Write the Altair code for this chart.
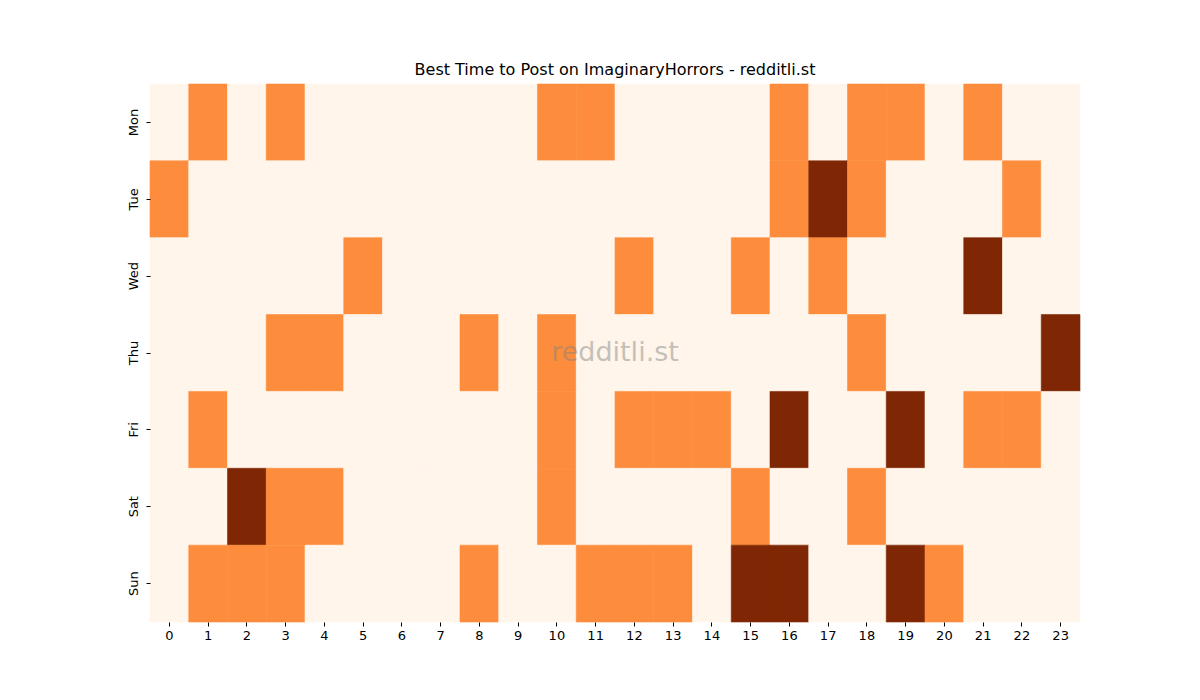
"""
Posting-time heatmap: day of week x hour of day, three activity levels.
"""

import altair as alt
import pandas as pd

days = ["Mon", "Tue", "Wed", "Thu", "Fri", "Sat", "Sun"]
hours = list(range(24))

# activity level per hour (0 = low, 1 = good, 2 = best)
mon = [0, 1, 0, 1, 0, 0, 0, 0, 0, 0, 1, 1, 0, 0, 0, 0, 1, 0, 1, 1, 0, 1, 0, 0]
tue = [1, 0, 0, 0, 0, 0, 0, 0, 0, 0, 0, 0, 0, 0, 0, 0, 1, 2, 1, 0, 0, 0, 1, 0]
wed = [0, 0, 0, 0, 0, 1, 0, 0, 0, 0, 0, 0, 1, 0, 0, 1, 0, 1, 0, 0, 0, 2, 0, 0]
thu = [0, 0, 0, 1, 1, 0, 0, 0, 1, 0, 1, 0, 0, 0, 0, 0, 0, 0, 1, 0, 0, 0, 0, 2]
fri = [0, 1, 0, 0, 0, 0, 0, 0, 0, 0, 1, 0, 1, 1, 1, 0, 2, 0, 0, 2, 0, 1, 1, 0]
sat = [0, 0, 2, 1, 1, 0, 0, 0, 0, 0, 1, 0, 0, 0, 0, 1, 0, 0, 1, 0, 0, 0, 0, 0]
sun = [0, 1, 1, 1, 0, 0, 0, 0, 1, 0, 0, 1, 1, 1, 0, 2, 2, 0, 0, 2, 1, 0, 0, 0]

levels = [0, 1, 2]
level_colors = ["#fff5eb", "#fd8d3c", "#7f2704"]

rows = []
for day, vals in zip(days, [mon, tue, wed, thu, fri, sat, sun]):
    for h, v in zip(hours, vals):
        rows.append({"day": day, "hour": h, "level": v})
df = pd.DataFrame(rows)

font = "DejaVu Sans"
level_scale = alt.Scale(domain=levels, range=level_colors)

heat = alt.Chart(df).mark_rect(strokeWidth=0.6).encode(
    x=alt.X(
        "hour:O",
        sort=hours,
        scale=alt.Scale(paddingInner=0, paddingOuter=0),
        axis=alt.Axis(
            title=None, labelAngle=0, domain=False, tickSize=4,
            tickColor="black", labelColor="black", labelFontSize=13,
            labelFont=font, labelPadding=3,
        ),
    ),
    y=alt.Y(
        "day:O",
        sort=days,
        scale=alt.Scale(paddingInner=0, paddingOuter=0),
        axis=alt.Axis(
            title=None, labelAngle=270, domain=False, tickSize=4,
            tickColor="black", labelColor="black", labelFontSize=13,
            labelFont=font, labelPadding=6, labelAlign="center",
            labelBaseline="bottom",
        ),
    ),
    color=alt.Color("level:O", scale=level_scale, legend=None),
    stroke=alt.Stroke("level:O", scale=level_scale, legend=None),
)

watermark = alt.Chart(pd.DataFrame({"t": ["redditli.st"]})).mark_text(
    fontSize=27, font=font, color="#808080", opacity=0.45,
    align="center", baseline="middle",
).encode(
    x=alt.value(465),
    y=alt.value(269),
    text="t:N",
)

chart = alt.layer(heat, watermark).properties(
    width=930,
    height=538,
    title=alt.TitleParams(
        "Best Time to Post on ImaginaryHorrors - redditli.st",
        fontSize=16, font=font, fontWeight="normal", color="black",
        offset=6,
    ),
    autosize=alt.AutoSizeParams(type="none"),
    padding={"left": 142, "top": 76, "right": 104, "bottom": 70},
).configure_view(strokeWidth=0)

chart.save("out.html", embed_options={"renderer": "svg", "actions": False})
